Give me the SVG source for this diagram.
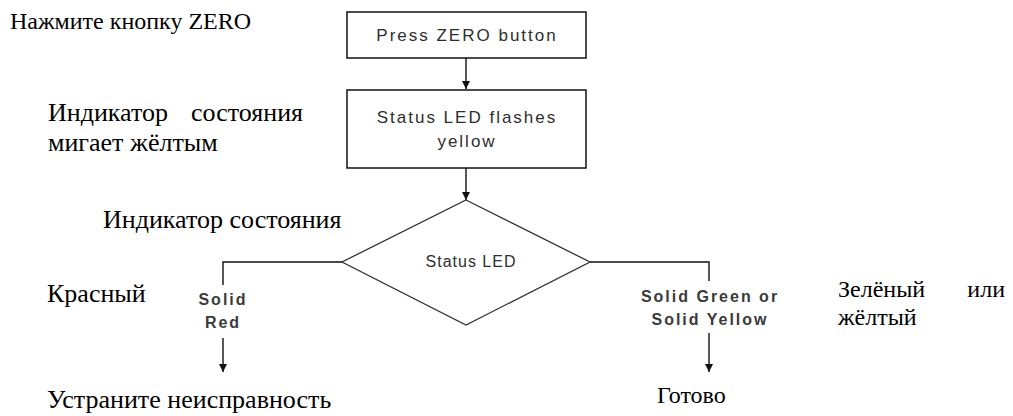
<svg xmlns="http://www.w3.org/2000/svg" width="1013" height="416" viewBox="0 0 1013 416">
<style>
.box{fill:#fff;stroke:#111;stroke-width:1.5}
.dia{fill:#fff;stroke:#333;stroke-width:1.3}
.ln{fill:none;stroke:#111;stroke-width:1.4}
.en{font-family:"Liberation Sans",Arial,sans-serif;font-size:17px;letter-spacing:2px;fill:#2e2e2e;text-anchor:middle}
.ens{font-family:"Liberation Sans",Arial,sans-serif;font-size:16px;letter-spacing:1px;fill:#2e2e2e;text-anchor:middle}
.enb{font-family:"Liberation Sans",Arial,sans-serif;font-size:16px;letter-spacing:2px;font-weight:bold;fill:#3a3a3a;text-anchor:middle}
.ru{font-family:"Liberation Serif","Times New Roman",serif;font-size:26px;fill:#000}
.ru24{font-family:"Liberation Serif","Times New Roman",serif;font-size:24px;fill:#000}
</style>
<defs>
<marker id="ah" viewBox="0 0 10 10" refX="10" refY="5" markerWidth="9" markerHeight="8" markerUnits="userSpaceOnUse" orient="auto">
<path d="M0,0 L10,5 L0,10 z" fill="#111"/>
</marker>
</defs>
<g id="connectors">
<line class="ln" x1="466" y1="58" x2="466" y2="89" marker-end="url(#ah)"/>
<line class="ln" x1="466" y1="168" x2="466" y2="200" marker-end="url(#ah)"/>
<polyline class="ln" points="342,262 223,262 223,285"/>
<line class="ln" x1="223" y1="338" x2="223" y2="372" marker-end="url(#ah)"/>
<polyline class="ln" points="590,262 709,262 709,281"/>
<line class="ln" x1="709" y1="333" x2="709" y2="372" marker-end="url(#ah)"/>
</g>
<g id="n1">
<rect class="box" x="347" y="12" width="239" height="46"/>
<text class="en" x="467" y="41">Press ZERO button</text>
</g>
<g id="n2">
<rect class="box" x="347" y="90" width="239" height="78"/>
<text class="en" x="467" y="123">Status LED flashes</text>
<text class="en" x="467" y="147">yellow</text>
</g>
<g id="n3">
<polygon class="dia" points="466,200 590,262 466,325 342,262"/>
<text class="ens" x="471" y="267">Status LED</text>
</g>
<g id="lbl-red">
<text class="enb" x="223" y="305">Solid</text>
<text class="enb" x="223" y="328">Red</text>
</g>
<g id="lbl-green">
<text class="enb" x="710" y="302">Solid Green or</text>
<text class="enb" x="710" y="325">Solid Yellow</text>
</g>
<g id="ru-text">
<text class="ru24" x="10" y="29">Нажмите кнопку ZERO</text>
<text class="ru" x="48" y="121">Индикатор</text>
<text class="ru" x="303" y="121" text-anchor="end">состояния</text>
<text class="ru" x="48" y="151">мигает жёлтым</text>
<text class="ru" x="103" y="228">Индикатор состояния</text>
<text class="ru" x="47" y="302">Красный</text>
<text class="ru" x="47" y="408">Устраните неисправность</text>
<text class="ru24" x="838" y="297">Зелёный</text>
<text class="ru24" x="1005" y="297" text-anchor="end">или</text>
<text class="ru24" x="838" y="325">жёлтый</text>
<text class="ru24" x="657" y="403">Готово</text>
</g>
</svg>
